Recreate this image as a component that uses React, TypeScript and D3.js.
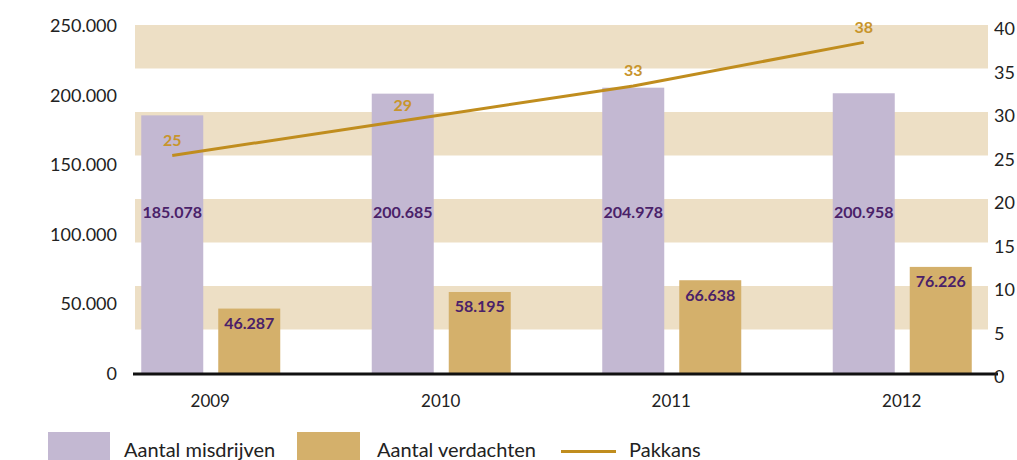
import React from "react";
import * as d3 from "d3";

const years = ["2009", "2010", "2011", "2012"];
const misdrijven = [185078, 200685, 204978, 200958];
const verdachten = [46287, 58195, 66638, 76226];
const pakkans = [25, 29, 33, 38];
const leftTicks = [0, 50000, 100000, 150000, 200000, 250000];
const rightTicks = [0, 5, 10, 15, 20, 25, 30, 35, 40];
const bandStarts = [5, 15, 25, 35];

const W = 1017, H = 460;
const FONT = "Lato, 'Open Sans', sans-serif";
const C_MIS = "#c3b8d2";
const C_VER = "#d4b06b";
const C_BAND = "#eddfc5";
const C_LINE = "#c08d1e";
const C_LBL = "#c8952c";
const C_VAL = "#4a2169";

const fmt = (v: number) => d3.format(",")(v).replace(/,/g, ".");

export default function App() {
  const x = d3.scaleBand<string>().domain(years).range([95, 1017]).padding(0);
  const yL = d3.scaleLinear().domain([0, 250000]).range([373, 25]);
  const yR = d3.scaleLinear().domain([0, 40]).range([373, 25]);
  const plotL = 135, plotR = 988;
  const barW = 62;
  const cx = (y: string) => (x(y) as number) + x.bandwidth() / 2;
  const misX = (y: string) => cx(y) - 69;
  const verX = (y: string) => cx(y) + 8;
  const line = d3
    .line<number>()
    .x((_, i) => misX(years[i]) + barW / 2)
    .y((d) => yR(d));

  return (
    <svg width={W} height={H} style={{ display: "block", position: "absolute", left: 0, top: 0 }} fontFamily={FONT}>
      {bandStarts.map((b) => (
        <rect key={b} x={plotL} width={plotR - plotL} y={yR(b + 5)} height={yR(b) - yR(b + 5)} fill={C_BAND} />
      ))}
      {years.map((yr, i) => (
        <g key={yr}>
          <rect x={misX(yr)} width={barW} y={yL(misdrijven[i])} height={yL(0) - yL(misdrijven[i])} fill={C_MIS} />
          <rect x={verX(yr)} width={barW} y={yL(verdachten[i])} height={yL(0) - yL(verdachten[i])} fill={C_VER} />
          <text x={misX(yr) + barW / 2} y={yL(116000)} textAnchor="middle" dominantBaseline="central" fontSize={16} fontWeight="bold" fill={C_VAL}>
            {fmt(misdrijven[i])}
          </text>
          <text x={verX(yr) + barW / 2} y={yL(verdachten[i]) + 14} textAnchor="middle" dominantBaseline="central" fontSize={16} fontWeight="bold" fill={C_VAL}>
            {fmt(verdachten[i])}
          </text>
          <text x={cx(yr)} y={400} textAnchor="middle" dominantBaseline="central" fontSize={17} fill="#222">
            {yr}
          </text>
        </g>
      ))}
      <line x1={133} x2={998} y1={yL(0) + 1} y2={yL(0) + 1} stroke="#111" strokeWidth={3} />
      <path d={line(pakkans) || ""} fill="none" stroke={C_LINE} strokeWidth={3} />
      {pakkans.map((v, i) => (
        <text key={i} x={misX(years[i]) + barW / 2} y={yR(v) - 16} textAnchor="middle" dominantBaseline="central" fontSize={16} fontWeight="bold" fill={C_LBL}>
          {v}
        </text>
      ))}
      {leftTicks.map((t) => (
        <text key={t} x={117} y={yL(t)} textAnchor="end" dominantBaseline="central" fontSize={18} fill="#222">
          {fmt(t)}
        </text>
      ))}
      {rightTicks.map((t) => (
        <text key={t} x={994} y={yR(t) + 3} textAnchor="start" dominantBaseline="central" fontSize={18} fill="#222">
          {t}
        </text>
      ))}
      <rect x={48} y={432} width={62} height={28} fill={C_MIS} />
      <text x={124} y={457} fontSize={20} fill="#222">Aantal misdrijven</text>
      <rect x={297} y={432} width={63} height={28} fill={C_VER} />
      <text x={377} y={457} fontSize={20} fill="#222">Aantal verdachten</text>
      <line x1={561} x2={616} y1={451.5} y2={451.5} stroke={C_LINE} strokeWidth={3} />
      <text x={629} y={457} fontSize={20} fill="#222">Pakkans</text>
    </svg>
  );
}
